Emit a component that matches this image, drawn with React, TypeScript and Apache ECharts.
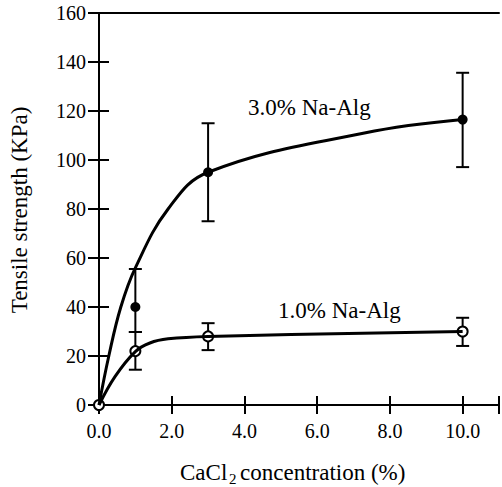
import React, { useEffect, useRef } from "react";
import * as echarts from "echarts";

// Measured points (CaCl2 %, tensile strength KPa)
const conc = [0, 1, 3, 10];
const alg3Mean = [0, 40, 95, 116.5];
const alg3Low = [0, 29.8, 75, 97.1];
const alg3High = [0, 55.5, 115, 135.6];
const alg1Mean = [0, 22, 28, 30];
const alg1Low = [0, 14.4, 22.4, 24.1];
const alg1High = [0, 29.8, 33.4, 35.6];

// Fitted curves
const fit3X = [0, 0.27, 0.6, 1.0, 1.9, 3, 7.3, 10];
const fit3Y = [0, 20, 40, 56, 80, 95, 111, 116.5];
const fit1X = [0, 0.44, 1.0, 1.4, 1.9, 3, 10];
const fit1Y = [0, 11.6, 21.8, 25.3, 27, 28, 30];

const xTickValues = [0, 2, 4, 6, 8, 10];
const xTickLabels = ["0.0", "2.0", "4.0", "6.0", "8.0", "10.0"];

const seriesLabel3 = "3.0% Na-Alg";
const seriesLabel1 = "1.0% Na-Alg";
const yTitle = "Tensile strength (KPa)";

const FONT = "Liberation Serif, serif";

export default function App() {
  const ref = useRef<HTMLDivElement>(null);
  useEffect(() => {
    if (!ref.current) return;
    const chart = echarts.init(ref.current, null, { renderer: "svg" });
    const pairs = (xs: number[], ys: number[]) => xs.map((x, i) => [x, ys[i]]);
    const errData = (lo: number[], hi: number[]) =>
      conc
        .map((x, i) => [x, lo[i], hi[i]])
        .filter((d) => d[2] > d[1]);
    const renderErr = (params: any, api: any) => {
      const x = api.value(0);
      const pLo = api.coord([x, api.value(1)]);
      const pHi = api.coord([x, api.value(2)]);
      const w = 6.5;
      const st = { stroke: "#000", lineWidth: 2 };
      return {
        type: "group",
        children: [
          { type: "line", shape: { x1: pLo[0], y1: pLo[1], x2: pHi[0], y2: pHi[1] }, style: st },
          { type: "line", shape: { x1: pLo[0] - w, y1: pLo[1], x2: pLo[0] + w, y2: pLo[1] }, style: st },
          { type: "line", shape: { x1: pHi[0] - w, y1: pHi[1], x2: pHi[0] + w, y2: pHi[1] }, style: st },
        ],
      };
    };
    const xLabelFmt = (v: number) => {
      const i = xTickValues.indexOf(v);
      return i >= 0 ? xTickLabels[i] : "";
    };
    chart.setOption({
      animation: false,
      textStyle: { fontFamily: FONT },
      grid: { left: 99, top: 13, width: 404.25, height: 392 },
      xAxis: [
        {
          type: "value", min: 0, max: 11, interval: 2, position: "bottom",
          axisLine: { onZero: false, lineStyle: { color: "#000", width: 2 } },
          axisTick: { inside: false, length: 9, lineStyle: { color: "#000", width: 2 } },
          axisLabel: { formatter: xLabelFmt, color: "#000", fontSize: 20, fontFamily: FONT, margin: 16 },
          splitLine: { show: false },
        },
        {
          type: "value", min: 0, max: 11, interval: 2, position: "bottom",
          axisLine: { show: false, onZero: false },
          axisTick: { inside: true, length: 9, lineStyle: { color: "#000", width: 2 } },
          axisLabel: { show: false },
          splitLine: { show: false },
        },
        {
          type: "value", min: 0, max: 11, interval: 2, position: "top",
          axisLine: { show: true, onZero: false, lineStyle: { color: "#000", width: 2 } },
          axisTick: { show: false },
          axisLabel: { show: false },
          splitLine: { show: false },
        },
      ],
      yAxis: [
        {
          type: "value", min: 0, max: 160, interval: 20, position: "left",
          axisLine: { show: true, onZero: false, lineStyle: { color: "#000", width: 2 } },
          axisTick: { show: true, inside: false, length: 11, lineStyle: { color: "#000", width: 2 } },
          axisLabel: { color: "#000", fontSize: 20, fontFamily: FONT, margin: 13 },
          splitLine: { show: false },
        },
        {
          type: "value", min: 0, max: 160, interval: 20, position: "left",
          axisLine: { show: false, onZero: false },
          axisTick: { show: true, inside: true, length: 10, lineStyle: { color: "#000", width: 2 } },
          axisLabel: { show: false },
          splitLine: { show: false },
        },
      ],
      series: [
        {
          type: "line", data: pairs(fit3X, fit3Y), showSymbol: false, symbol: "none",
          smooth: 0.4,
          lineStyle: { color: "#000", width: 3 }, silent: true,
        },
        {
          type: "line", data: pairs(fit1X, fit1Y), showSymbol: false, symbol: "none",
          smooth: 0.4,
          lineStyle: { color: "#000", width: 3 }, silent: true,
        },
        {
          type: "custom", data: errData(alg3Low, alg3High), encode: { x: 0, y: [1, 2] },
          renderItem: renderErr, silent: true,
        },
        {
          type: "custom", data: errData(alg1Low, alg1High), encode: { x: 0, y: [1, 2] },
          renderItem: renderErr, silent: true,
        },
        {
          type: "scatter", data: pairs(conc, alg3Mean), symbol: "circle", symbolSize: 10,
          itemStyle: { color: "#000", opacity: 1 }, silent: true,
        },
        {
          type: "scatter", data: pairs(conc, alg1Mean), symbol: "circle", symbolSize: 10,
          itemStyle: { color: "#fff", borderColor: "#000", borderWidth: 2, opacity: 1 }, silent: true,
        },
      ],
      graphic: [
        {
          type: "text", x: 248, y: 107,
          style: { text: seriesLabel3, fontSize: 23, fontFamily: FONT, fill: "#000", align: "left", verticalAlign: "middle" },
        },
        {
          type: "text", x: 278, y: 310,
          style: { text: seriesLabel1, fontSize: 23, fontFamily: FONT, fill: "#000", align: "left", verticalAlign: "middle" },
        },
        {
          type: "text", x: 180, y: 472,
          style: { text: "CaCl", fontSize: 23, fontFamily: FONT, fill: "#000", align: "left", verticalAlign: "middle" },
        },
        {
          type: "text", x: 229, y: 479,
          style: { text: "2", fontSize: 15, fontFamily: FONT, fill: "#000", align: "left", verticalAlign: "middle" },
        },
        {
          type: "text", x: 240, y: 472,
          style: { text: "concentration (%)", fontSize: 23, fontFamily: FONT, fill: "#000", align: "left", verticalAlign: "middle" },
        },
        {
          type: "text", x: 19, y: 210, rotation: Math.PI / 2,
          style: { text: yTitle, fontSize: 23, fontFamily: FONT, fill: "#000", align: "center", verticalAlign: "middle" },
        },
      ],
    });
    return () => chart.dispose();
  }, []);
  return (
    <div
      ref={ref}
      style={{ position: "absolute", left: 0, top: 0, width: 502, height: 487, background: "#fff" }}
    />
  );
}
